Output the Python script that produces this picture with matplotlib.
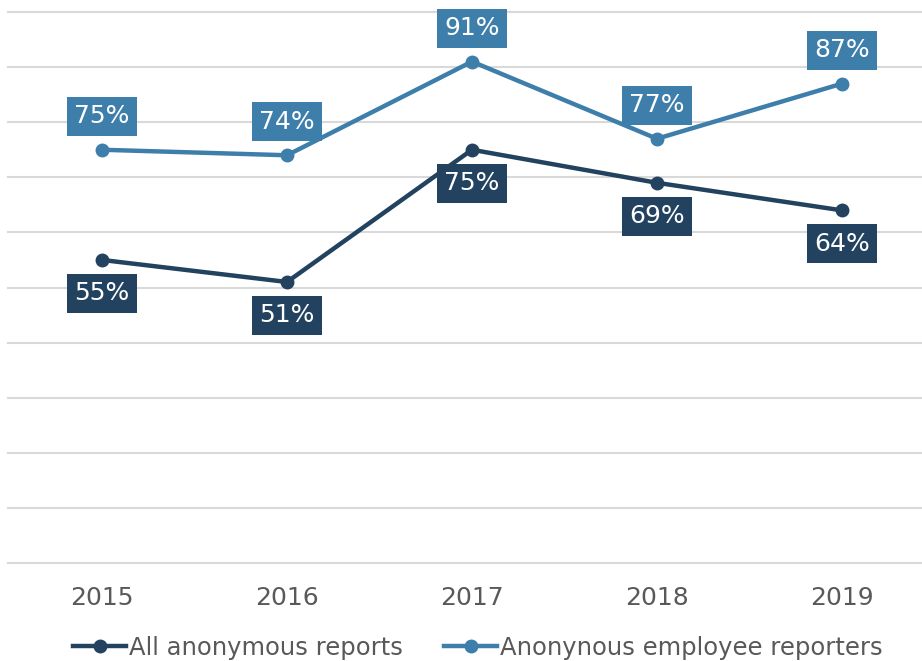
import matplotlib
matplotlib.use("Agg")
import matplotlib.pyplot as plt

years = ["2015", "2016", "2017", "2018", "2019"]
all_reports = [55, 51, 75, 69, 64]
employee_reporters = [75, 74, 91, 77, 87]
series_names = ["All anonymous reports", "Anonynous employee reporters"]

dark = "#22425f"
blue = "#3d7eab"
grid_c = "#d9d9d9"
text_c = "#595959"

fig = plt.figure(figsize=(9.22, 6.61), dpi=100)
ax = fig.add_axes([8/922, (661-563)/661, 914/922, (563-12)/661])

x = list(range(len(years)))
l1, = ax.plot(x, all_reports, color=dark, lw=3.2, marker="o", ms=9, label=series_names[0], zorder=3)
l2, = ax.plot(x, employee_reporters, color=blue, lw=3.2, marker="o", ms=9, label=series_names[1], zorder=3)

for xi, v in zip(x, all_reports):
    ax.annotate(f"{v}%", (xi, v), xytext=(0, -24), textcoords="offset points",
                ha="center", va="center", fontsize=18, color="white",
                bbox=dict(boxstyle="square,pad=0.3", fc=dark, ec="none"), zorder=4)
for xi, v in zip(x, employee_reporters):
    ax.annotate(f"{v}%", (xi, v), xytext=(0, 24), textcoords="offset points",
                ha="center", va="center", fontsize=18, color="white",
                bbox=dict(boxstyle="square,pad=0.3", fc=blue, ec="none"), zorder=4)

ax.set_xlim(-94/185, 4 + 80/185)
ax.set_ylim(0, 100)
ax.set_yticks(range(0, 101, 10))
ax.yaxis.grid(True, color=grid_c, lw=1.5)
for gl in ax.get_ygridlines():
    gl.set_clip_on(False)
ax.set_axisbelow(True)
ax.tick_params(axis="y", left=False, labelleft=False)
ax.tick_params(axis="x", bottom=False, pad=13)
ax.set_xticks(x)
ax.set_xticklabels(years, fontsize=18, color=text_c)
for s in ax.spines.values():
    s.set_visible(False)

leg = fig.legend(handles=[l1, l2], loc="center", bbox_to_anchor=(0.518, (661-648)/661),
                 ncol=2, frameon=False, fontsize=17.5, handlelength=2.2, handletextpad=0.1,
                 columnspacing=1.7, labelcolor=text_c, borderaxespad=0)

fig.savefig("out.png", dpi=100)
